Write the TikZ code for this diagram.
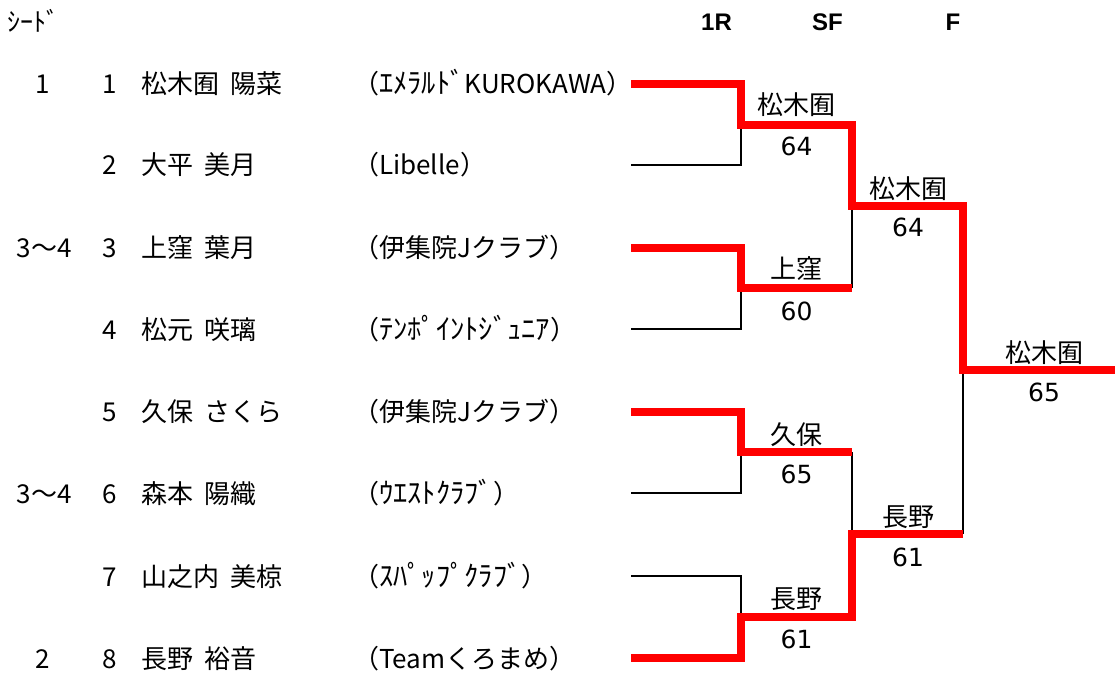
\documentclass[tikz,border=0pt]{standalone}
\usepackage{fontspec}
\newfontfamily\jpfont{Noto Sans CJK JP}
\newfontfamily\hdfont{Liberation Sans}
\newfontfamily\scfont{DejaVu Sans}
\newcommand\wsp{\hspace{0.2em} }
\newcommand\hk[1]{{\fontsize{28.5}{30}\selectfont #1}}
\tikzset{
  txt/.style={font=\jpfont\fontsize{26}{30}\selectfont, inner sep=0pt},
  ltxt/.style={txt, anchor=base west},
  ctxt/.style={txt, anchor=base},
  hdr/.style={font=\hdfont\bfseries\fontsize{24}{28}\selectfont, inner sep=0pt, anchor=base},
  scr/.style={font=\scfont\fontsize{25}{30}\selectfont, inner sep=0pt, anchor=base},
  redln/.style={draw=red, line width=8pt, line join=miter},
  blkln/.style={draw=black, line width=2.5pt},
}
\begin{document}
\begin{tikzpicture}[x=1pt,y=-1pt]
\useasboundingbox (0,0) rectangle (1115,677);

% headers
\node[ltxt] (seedh) at (7,32) {ｼｰﾄﾞ};
\node[hdr] (h1) at (716.5,31) {1R};
\node[hdr] (h2) at (827.5,31) {SF};
\node[hdr] (h3) at (953,31) {F};

% seeds
\node[ctxt] (sd1) at (43,93.5) {1};
\node[ctxt] (sd3) at (44,257) {3～4};
\node[ctxt] (sd6) at (44,503) {3～4};
\node[ctxt] (sd8) at (43,668) {2};

% numbers
\node[ctxt] (n1) at (110,93.5) {1};
\node[ctxt] (n2) at (110,174) {2};
\node[ctxt] (n3) at (110,257) {3};
\node[ctxt] (n4) at (110,339) {4};
\node[ctxt] (n5) at (110,421) {5};
\node[ctxt] (n6) at (110,503) {6};
\node[ctxt] (n7) at (110,586) {7};
\node[ctxt] (n8) at (110,668) {8};

% names
\node[ltxt] (nm1) at (141,93.5) {松木囿\wsp{}陽菜};
\node[ltxt] (nm2) at (141,174) {大平\wsp{}美月};
\node[ltxt] (nm3) at (141,257) {上窪\wsp{}葉月};
\node[ltxt] (nm4) at (141,339) {松元\wsp{}咲璃};
\node[ltxt] (nm5) at (141,421) {久保\wsp{}さくら};
\node[ltxt] (nm6) at (141,503) {森本\wsp{}陽織};
\node[ltxt] (nm7) at (141,586) {山之内\wsp{}美椋};
\node[ltxt] (nm8) at (141,668) {長野\wsp{}裕音};

% clubs
\node[ltxt] (c1) at (353,93.5) {（\hk{ｴﾒﾗﾙﾄﾞ}KUROKAWA）};
\node[ltxt] (c2) at (353,174) {（Libelle）};
\node[ltxt] (c3) at (353,257) {（伊集院Jクラブ）};
\node[ltxt] (c4) at (353,339) {（\hk{ﾃﾝﾎﾟｲﾝﾄｼﾞｭﾆｱ}）};
\node[ltxt] (c5) at (353,421) {（伊集院Jクラブ）};
\node[ltxt] (c6) at (353,503) {（\hk{ｳｴｽﾄｸﾗﾌﾞ}）};
\node[ltxt] (c7) at (353,586) {（\hk{ｽﾊﾟｯﾌﾟｸﾗﾌﾞ}）};
\node[ltxt] (c8) at (353,668) {（Teamくろまめ）};

% bracket coordinates
\coordinate (p1) at (631,83.5);
\coordinate (p2) at (631,165);
\coordinate (p3) at (631,247.5);
\coordinate (p4) at (631,329);
\coordinate (p5) at (631,411.5);
\coordinate (p6) at (631,493);
\coordinate (p7) at (631,576);
\coordinate (p8) at (631,658);
\coordinate (m1) at (741,124.5);
\coordinate (m2) at (741,288);
\coordinate (m3) at (741,452);
\coordinate (m4) at (741,617);
\coordinate (s1) at (852,206);
\coordinate (s2) at (852,534);
\coordinate (f) at (963,370);
\coordinate (e) at (1115,370);

% losers (black)
\draw[blkln] (p2) -| (m1);
\draw[blkln] (p4) -| (m2);
\draw[blkln] (p6) -| (m3);
\draw[blkln] (p7) -| (m4);
\draw[blkln] (s1 |- m2) -- (s1);
\draw[blkln] (s2 |- m3) -- (s2);
\draw[blkln] (f |- s2) -- (f);

% winners (red)
\draw[redln] (p3) -| (m2) -- (s1 |- m2);
\draw[redln] (p5) -| (m3) -- (s2 |- m3);
\draw[redln] (p8) -| (m4) -| (s2) -- (f |- s2);
\draw[redln] (p1) -| (m1) -| (s1) -| (f) -- (e);

% result labels
\node[ctxt] (w1) at (796.5,114) {松木囿};
\node[scr] (sc1) at (796.5,155.5) {64};
\node[ctxt] (w2) at (796.5,278) {上窪};
\node[scr] (sc2) at (796.5,320) {60};
\node[ctxt] (w3) at (796.5,444) {久保};
\node[scr] (sc3) at (796.5,483) {65};
\node[ctxt] (w4) at (796.5,608) {長野};
\node[scr] (sc4) at (796.5,648) {61};
\node[ctxt] (w5) at (908,198) {松木囿};
\node[scr] (sc5) at (908,236) {64};
\node[ctxt] (w6) at (908,526) {長野};
\node[scr] (sc6) at (908,566) {61};
\node[ctxt] (w7) at (1044,362) {松木囿};
\node[scr] (sc7) at (1044,401) {65};
\end{tikzpicture}
\end{document}
